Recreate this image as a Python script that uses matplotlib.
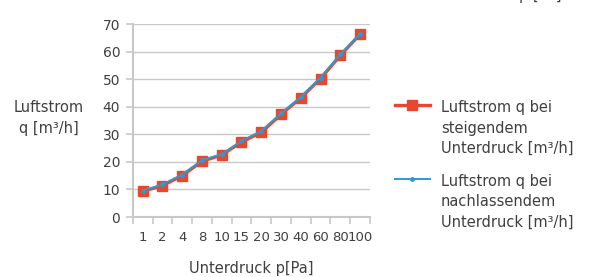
import numpy as np
import matplotlib.pyplot as plt

plt.rcParams['font.family'] = ['DejaVu Sans']

pressure = ['1', '2', '4', '8', '10', '15', '20', '30', '40', '60', '80', '100']
q_rising = [9.3, 11.4, 15.0, 20.2, 22.5, 27.2, 30.7, 37.2, 43.2, 50.2, 58.6, 66.3]
q_falling = [9.5, 11.8, 15.4, 20.6, 22.8, 27.6, 31.2, 37.6, 43.6, 50.6, 59.0, 66.5]

RED = '#E8472D'
BLUE = '#2E9AD3'
TXT = '#404040'
GRID = '#C8C8C8'

fig = plt.figure(figsize=(5.9, 2.77), dpi=100)
ax = fig.add_axes([0.225, 0.2166, 0.402, 0.6966])

x = np.arange(len(pressure))
ax.plot(x, q_rising, color=RED, lw=2.4, marker='s', ms=6.5, mec=RED, mfc=RED,
        label='Luftstrom q bei\nsteigendem\nUnterdruck [m³/h]')
ax.plot(x, q_falling, color=BLUE, lw=1.4, marker='o', ms=2.5,
        label='Luftstrom q bei\nnachlassendem\nUnterdruck [m³/h]')

ax.set_xlim(-0.5, len(pressure) - 0.5)
ax.set_ylim(0, 70)
ax.set_yticks(range(0, 71, 10))
ax.set_xticks(x)
ax.set_xticklabels(pressure)
ax.set_xticks(np.arange(-0.5, len(pressure)), minor=True)
ax.tick_params(axis='x', which='major', length=0, pad=10, labelsize=9.5, labelcolor=TXT)
ax.tick_params(axis='x', which='minor', length=5, color=GRID, width=1.2)
ax.tick_params(axis='y', length=5, color=GRID, width=1.2, labelsize=10, labelcolor=TXT, pad=4)

ax.grid(axis='y', color=GRID, lw=1)
ax.set_axisbelow(True)
for s in ['top', 'right']:
    ax.spines[s].set_visible(False)
for s in ['left', 'bottom']:
    ax.spines[s].set_color(GRID)
    ax.spines[s].set_linewidth(1.5)

ax.set_xlabel('Unterdruck p[Pa]', fontsize=10.5, color=TXT, labelpad=12)
fig.text(0.083, 0.575, 'Luftstrom\nq [m³/h]', ha='center', va='center',
         fontsize=10.5, color=TXT, linespacing=1.5)

leg = fig.legend(loc='center left', bbox_to_anchor=(0.647, 0.405), frameon=False,
                 fontsize=10.5, handlelength=2.4, handletextpad=0.75,
                 labelspacing=1.2)
for t in leg.get_texts():
    t.set_color(TXT)
    t.set_linespacing(1.45)
# put each legend symbol next to the first line of its label
for col in leg._legend_handle_box.get_children():
    for row in col.get_children():
        row.align = 'top'

fig.text(0.915, 1.0, 'p [Pa]', ha='center', va='baseline', fontsize=10.5, color=TXT)

fig.savefig('out.png', dpi=100)
